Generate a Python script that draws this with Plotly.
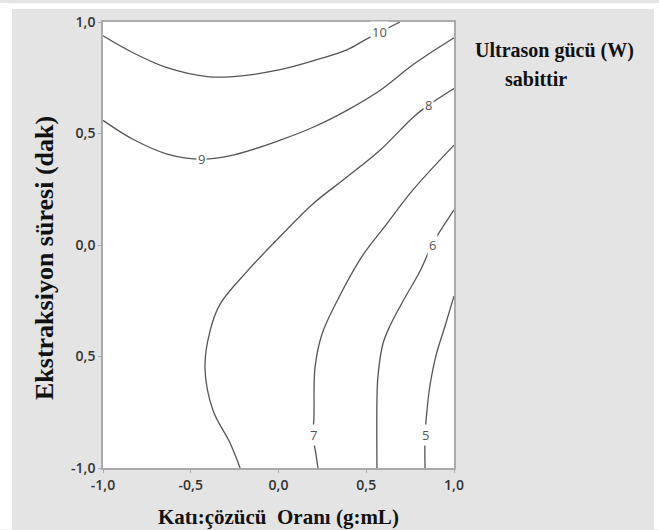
import plotly.graph_objects as go

# Contour lines (data coordinates)
levels = [10, 9, 8, 7, 6, 5]

c10_x = [-1.0, -0.829, -0.635, -0.407, -0.259, 0.009, 0.197, 0.390, 0.493, 0.578, 0.647, 0.692]
c10_y = [0.938, 0.862, 0.795, 0.755, 0.755, 0.786, 0.826, 0.875, 0.920, 0.955, 0.982, 1.0]

c9_x = [-1.0, -0.829, -0.635, -0.436, -0.259, 0.009, 0.197, 0.390, 0.578, 0.766, 1.0]
c9_y = [0.559, 0.474, 0.408, 0.385, 0.403, 0.470, 0.528, 0.604, 0.693, 0.808, 0.929]

c8_x = [1.0, 0.852, 0.766, 0.578, 0.390, 0.197, 0.009, -0.179, -0.333, -0.390, -0.419, -0.373, -0.276, -0.219]
c8_y = [0.702, 0.626, 0.572, 0.425, 0.305, 0.185, 0.038, -0.118, -0.265, -0.385, -0.550, -0.742, -0.888, -1.0]

c7_x = [1.0, 0.766, 0.618, 0.476, 0.333, 0.248, 0.208, 0.202, 0.197, 0.214, 0.225]
c7_y = [0.448, 0.247, 0.096, -0.051, -0.252, -0.399, -0.550, -0.773, -0.853, -0.942, -1.0]

c6_x = [1.0, 0.937, 0.875, 0.806, 0.709, 0.635, 0.595, 0.567, 0.561, 0.561]
c6_y = [0.158, 0.082, 0.002, -0.118, -0.252, -0.363, -0.443, -0.586, -0.697, -1.0]

c5_x = [1.0, 0.949, 0.897, 0.863, 0.846, 0.835, 0.835]
c5_y = [-0.229, -0.363, -0.497, -0.630, -0.742, -0.853, -1.0]

contours_x = [c10_x, c9_x, c8_x, c7_x, c6_x, c5_x]
contours_y = [c10_y, c9_y, c8_y, c7_y, c6_y, c5_y]

# Label positions along each line
label_x = [0.578, -0.436, 0.852, 0.197, 0.875, 0.835]
label_y = [0.955, 0.385, 0.626, -0.853, 0.002, -0.853]

tick_vals = [-1.0, -0.5, 0.0, 0.5, 1.0]
x_tick_text = ["-1,0", "-0,5", "0,0", "0,5", "1,0"]
y_tick_text = ["-1,0", "0,5", "0,0", "0,5", "1,0"]

x_title = "Katı:çözücü  Oranı (g:mL)"
y_title = "Ekstraksiyon süresi (dak)"
note_line1 = "Ultrason gücü (W)"
note_line2 = "sabittir"

fig = go.Figure()
for lv, xs, ys in zip(levels, contours_x, contours_y):
    fig.add_trace(go.Scatter(
        x=xs, y=ys, mode="lines", name=str(lv),
        line=dict(color="#555555", width=1.3, shape="spline", smoothing=1.0),
        hoverinfo="skip", showlegend=False))

for lv, lx, ly in zip(levels, label_x, label_y):
    fig.add_annotation(x=lx, y=ly, xref="x", yref="y", text=str(lv), showarrow=False,
                       bgcolor="white", borderpad=1,
                       font=dict(family="Open Sans, DejaVu Sans, sans-serif", size=13, color="#555555"))

serif = "Liberation Serif, Times New Roman, serif"
fig.add_annotation(x=0.5, y=-0.109, xref="paper", yref="paper", text="<b>" + x_title + "</b>",
                   showarrow=False, yanchor="middle", xanchor="center",
                   font=dict(family=serif, size=21, color="#111111"))
fig.add_annotation(x=-0.165, y=0.471, xref="paper", yref="paper", text="<b>" + y_title + "</b>",
                   showarrow=False, textangle=-90, xanchor="center", yanchor="middle",
                   font=dict(family=serif, size=26, color="#111111"))
fig.add_annotation(x=(473 - 103) / 351, y=(468 - 48) / 449, xref="paper", yref="paper",
                   text="<b>" + note_line1 + "</b>", showarrow=False, xanchor="left", yanchor="middle",
                   font=dict(family=serif, size=20, color="#111111"))
fig.add_annotation(x=(503 - 103) / 351, y=(468 - 76) / 449, xref="paper", yref="paper",
                   text="<b>" + note_line2 + "</b>", showarrow=False, xanchor="left", yanchor="middle",
                   font=dict(family=serif, size=20, color="#111111"))

# white strips outside the grey panel
for x0, x1, y0, y1 in [(0, 12, 0, 530), (654, 659, 0, 530), (0, 659, 0, 6)]:
    fig.add_shape(type="rect", xref="paper", yref="paper",
                  x0=(x0 - 103) / 351, x1=(x1 - 103) / 351,
                  y0=(468 - y1) / 449, y1=(468 - y0) / 449,
                  fillcolor="white", line=dict(width=0), layer="below")

axis_common = dict(range=[-1, 1], tickvals=tick_vals, showgrid=False, zeroline=False,
                   showline=True, linecolor="#ababab", linewidth=1.5, mirror=True,
                   ticks="outside", ticklen=3, tickcolor="#ababab",
                   tickfont=dict(family="Open Sans, DejaVu Sans, sans-serif", size=14,
                                 color="#333333", weight=600))

fig.update_xaxes(**axis_common, ticktext=x_tick_text)
fig.update_yaxes(**axis_common, ticktext=y_tick_text)

fig.update_layout(width=659, height=530, margin=dict(l=103, r=205, t=19, b=62),
                  paper_bgcolor="#e4e4e4", plot_bgcolor="white", showlegend=False)

fig.write_html("out.html")
